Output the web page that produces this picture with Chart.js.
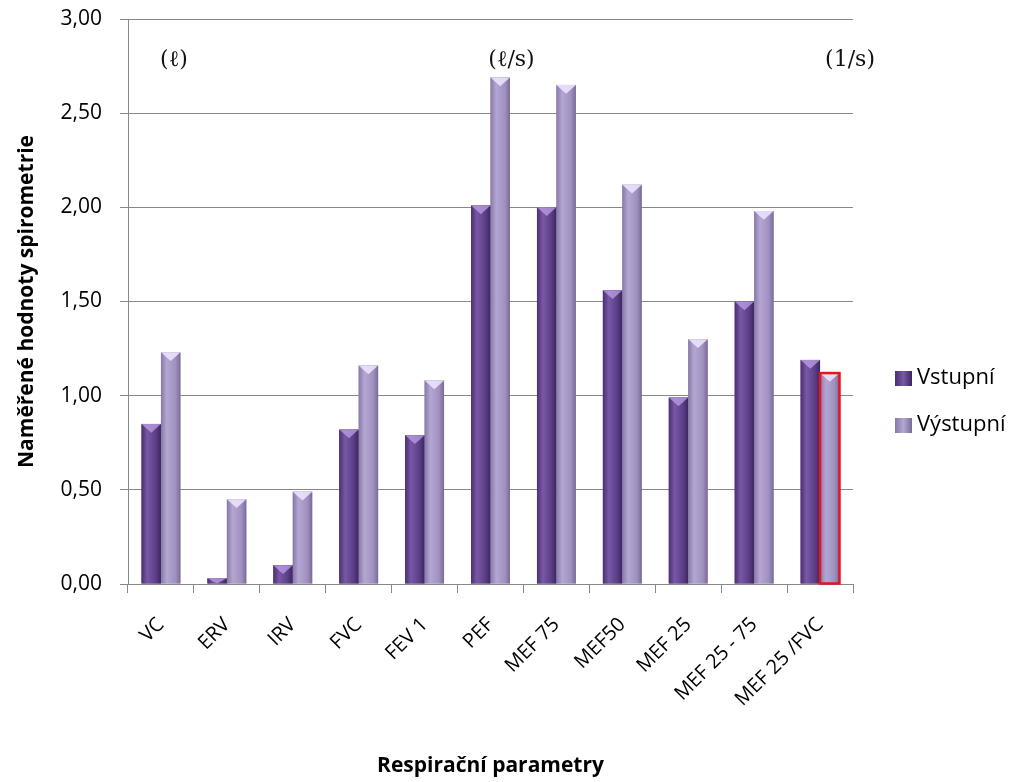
<!DOCTYPE html>
<html>
<head>
<meta charset="utf-8">
<script src="https://cdn.jsdelivr.net/npm/chart.js@4/dist/chart.umd.min.js"></script>
<style>
    html, body { margin: 0; padding: 0; background: #fff; }
    #wrap { width: 1018px; height: 782px; }
</style>
</head>
<body>
<div id="wrap"><canvas id="spirometrie"></canvas></div>
<script>
const categories = ["VC", "ERV", "IRV", "FVC", "FEV 1", "PEF", "MEF 75", "MEF50", "MEF 25", "MEF 25 - 75", "MEF 25 /FVC"];
const vstupni = [0.85, 0.03, 0.10, 0.82, 0.79, 2.01, 2.00, 1.56, 0.99, 1.50, 1.19];
const vystupni = [1.23, 0.45, 0.49, 1.16, 1.08, 2.69, 2.65, 2.12, 1.30, 1.98, 1.12];
const seriesNames = ["Vstupní", "Výstupní"];

// jednotky nad skupinami sloupcu (index kategorie, text)
const unitLabels = [
    { idx: 0, text: "(ℓ)", dx: 13 },
    { idx: 5, text: "(ℓ/s)", dx: 21 },
    { idx: 10, text: "(1/s)", dx: 30 },
];

const fontFam = "'Open Sans', 'Noto Sans', sans-serif";

// barvy: [okraj tmavy, stred svetly, stred, okraj]
const shades = [
    ["#4a2f72", "#7858a6", "#5a3d86", "#3c255e"],
    ["#8878a8", "#b4a6d2", "#a090c0", "#7a6a98"],
];

// vykresli "reliefni" sloupce pres zakladni obdelniky
const bevelBars = {
    id: "bevelBars",
    afterDatasetsDraw(chart) {
        const ctx = chart.ctx;
        chart.data.datasets.forEach((ds, di) => {
            const meta = chart.getDatasetMeta(di);
            const sh = shades[di];
            meta.data.forEach((bar) => {
                const { x, y, base, width } = bar.getProps(["x", "y", "base", "width"], true);
                const l = x - width / 2;
                const h = base - y;
                const g = ctx.createLinearGradient(l, 0, l + width, 0);
                g.addColorStop(0, sh[0]);
                g.addColorStop(0.3, sh[1]);
                g.addColorStop(0.75, sh[2]);
                g.addColorStop(1, sh[3]);
                ctx.save();
                ctx.fillStyle = g;
                ctx.fillRect(l, y, width, h);
                // horni trojuhelnik
                const th = Math.min(width * 0.45, h);
                ctx.beginPath();
                ctx.moveTo(l, y);
                ctx.lineTo(l + width, y);
                ctx.lineTo(x, y + th);
                ctx.closePath();
                ctx.fillStyle = di === 0 ? "rgba(190,160,230,0.75)" : "rgba(240,230,255,0.85)";
                ctx.fill();
                ctx.restore();
            });
        });
        // posledni vystupni sloupec je oramovan cervene
        const last = chart.getDatasetMeta(1).data[categories.length - 1];
        if (last) {
            const { x, y, base, width } = last.getProps(["x", "y", "base", "width"], true);
            ctx.save();
            ctx.strokeStyle = "#e8141c";
            ctx.lineWidth = 2.5;
            ctx.strokeRect(x - width / 2, y, width, base - y);
            ctx.restore();
        }
    },
};

const unitsAndLegend = {
    id: "unitsAndLegend",
    afterDraw(chart) {
        const ctx = chart.ctx;
        const xs = chart.scales.x;
        const area = chart.chartArea;
        ctx.save();
        ctx.fillStyle = "#111";
        ctx.font = "22px 'DejaVu Serif', serif";
        ctx.textAlign = "center";
        ctx.textBaseline = "middle";
        unitLabels.forEach((u) => {
            ctx.fillText(u.text, xs.getPixelForValue(u.idx) + u.dx, area.top + 41);
        });

        // legenda vpravo
        ctx.font = "22px " + fontFam;
        ctx.textAlign = "left";
        const lx = area.right + 42;
        seriesNames.forEach((name, i) => {
            const cy = 378 + i * 47;
            const sh = shades[i];
            const g = ctx.createLinearGradient(lx, 0, lx + 17, 0);
            g.addColorStop(0, sh[0]);
            g.addColorStop(0.5, sh[1]);
            g.addColorStop(1, sh[3]);
            ctx.fillStyle = g;
            ctx.fillRect(lx, cy - 7, 17, 15);
            ctx.fillStyle = "#000";
            ctx.fillText(name, lx + 22, cy);
        });
        ctx.restore();
    },
};

new Chart(document.getElementById("spirometrie"), {
    type: "bar",
    data: {
        labels: categories,
        datasets: [
            {
                label: seriesNames[0],
                data: vstupni,
                backgroundColor: shades[0][2],
                categoryPercentage: 0.59,
                barPercentage: 1.0,
            },
            {
                label: seriesNames[1],
                data: vystupni,
                backgroundColor: shades[1][2],
                categoryPercentage: 0.59,
                barPercentage: 1.0,
            },
        ],
    },
    options: {
        responsive: true,
        maintainAspectRatio: false,
        animation: false,
        layout: {
            padding: { left: 0, right: 165, top: 19, bottom: 0 },
        },
        plugins: {
            legend: { display: false },
            tooltip: { enabled: false },
        },
        scales: {
            x: {
                offset: true,
                grid: {
                    offset: true,
                    drawOnChartArea: false,
                    color: "#888",
                    tickLength: 9,
                },
                border: { color: "#888", width: 1 },
                ticks: {
                    color: "#000",
                    font: { family: fontFam, size: 20 },
                    minRotation: 45,
                    maxRotation: 45,
                    autoSkip: false,
                    padding: 20,
                },
                title: {
                    display: true,
                    text: "Respirační parametry",
                    color: "#000",
                    font: { family: fontFam, size: 21, weight: "bold" },
                    padding: { top: 0, bottom: 3 },
                },
                afterFit: (scale) => {
                    scale.height = 198;
                    scale.paddingLeft = 0;
                    scale.paddingRight = 0;
                },
            },
            y: {
                min: 0,
                max: 3,
                ticks: {
                    stepSize: 0.5,
                    color: "#000",
                    font: { family: fontFam, size: 21 },
                    padding: 18,
                    callback: (v) => v.toFixed(2).replace(".", ","),
                },
                grid: {
                    color: "#888",
                    lineWidth: 1,
                    tickLength: 8,
                },
                border: { color: "#888", width: 1 },
                title: {
                    display: true,
                    text: "Naměřené hodnoty spirometrie",
                    color: "#000",
                    font: { family: fontFam, size: 21, weight: "bold" },
                    padding: { top: 14, bottom: 4 },
                },
                afterFit: (scale) => {
                    scale.width = 128;
                    scale.paddingTop = 0;
                    scale.paddingBottom = 0;
                },
            },
        },
    },
    plugins: [bevelBars, unitsAndLegend],
});
</script>
</body>
</html>
